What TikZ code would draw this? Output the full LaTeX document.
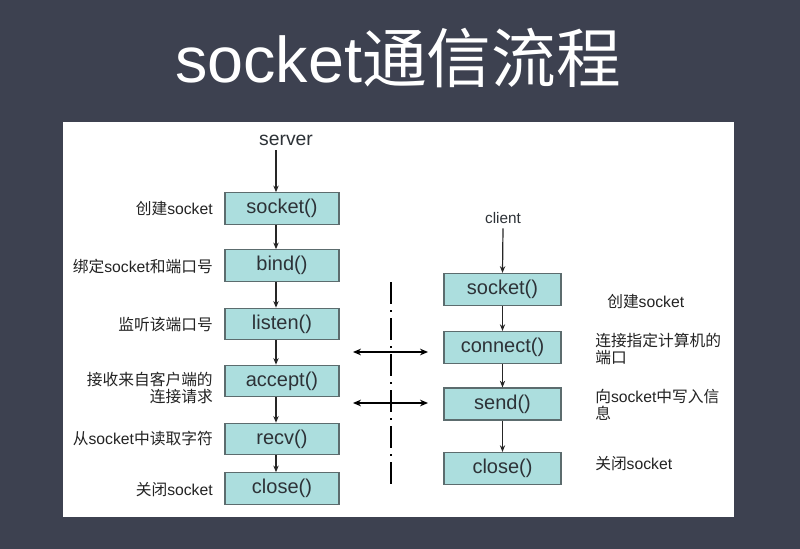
\documentclass[tikz,border=0pt]{standalone}
\usepackage{fontspec}
\setmainfont{Liberation Sans}
\newfontfamily\cjk{Noto Sans CJK SC}
\usetikzlibrary{arrows.meta,positioning}

\definecolor{slate}{RGB}{61,65,80}
\definecolor{boxfill}{RGB}{172,222,222}
\definecolor{boxline}{RGB}{92,108,110}
\definecolor{boxtext}{RGB}{45,50,55}
\definecolor{notetext}{RGB}{35,35,35}

\begin{document}
\begin{tikzpicture}[x=0.75pt,y=0.75pt,yscale=-1,xscale=1,
  callbox/.style={draw=boxline,fill=boxfill,line width=0.9pt,minimum width=85.5pt,minimum height=23.5pt,inner sep=0pt,font=\fontsize{15}{18}\selectfont,text=boxtext},
  clientbox/.style={callbox,minimum width=87.75pt,minimum height=24pt},
  note/.style={font=\fontsize{11.8}{13}\selectfont,text=notetext,inner sep=0pt},
  flow/.style={-{Stealth[length=5pt,width=4pt]},line width=0.9pt,draw=black!85},
  link/.style={{Stealth[length=6pt,width=5pt]}-{Stealth[length=6pt,width=5pt]},line width=1.1pt},
  divider/.style={line width=1.4pt,dash pattern=on 16.5pt off 4.5pt on 1.5pt off 4.5pt}]
\useasboundingbox (0,0) rectangle (800,549);

%Shape: background and sheet
\fill[slate] (0,0) rectangle (800,549);
\fill[white] (63,122) rectangle (734,517);

% Title
\node[text=white,font=\fontsize{48.5}{52}\selectfont] (title) at (398,58) {socket{\cjk 通信流程}};

% Server side
\node[font=\fontsize{14.5}{17}\selectfont,text=boxtext] (server) at (286,140) {server};
\coordinate (sx) at (276,0);
\node[callbox] (ssock) at (282,208.5) {socket()};
\node[callbox] (sbind) at (282,265.5) {bind()};
\node[callbox] (slisten) at (282,324) {listen()};
\node[callbox] (saccept) at (282,381) {accept()};
\node[callbox] (srecv) at (282,439) {recv()};
\node[callbox] (sclose) at (282,488.5) {close()};

\draw[flow] (server.south -| sx) -- (ssock.north -| sx);
\draw[flow] (ssock.south -| sx) -- (sbind.north -| sx);
\draw[flow] (sbind.south -| sx) -- (slisten.north -| sx);
\draw[flow] (slisten.south -| sx) -- (saccept.north -| sx);
\draw[flow] (saccept.south -| sx) -- (srecv.north -| sx);
\draw[flow] (srecv.south -| sx) -- (sclose.north -| sx);

% Text Node
\node[note,anchor=east] (lsock) at (213,209) {{\cjk 创建}socket};
\node[note,anchor=east] (lbind) at (213,266) {{\cjk 绑定}socket{\cjk 和端口号}};
\node[note,anchor=east] (llisten) at (213,325) {\cjk 监听该端口号};
\node[note,anchor=north east,align=right] (laccept) at (213,372) {{\cjk 接收来自客户端的}\\{\cjk 连接请求}};
\node[note,anchor=east] (lrecv) at (213,439) {{\cjk 从}socket{\cjk 中读取字符}};
\node[note,anchor=east] (lclose) at (213,490) {{\cjk 关闭}socket};

% Client side
\node[font=\fontsize{11.5}{14}\selectfont,text=boxtext] (client) at (503,218) {client};
\node[clientbox] (csock) at (502.5,289.5) {socket()};
\node[clientbox] (cconnect) at (502.5,347.5) {connect()};
\node[clientbox] (csend) at (502.5,404) {send()};
\node[clientbox] (cclose) at (502.5,468.5) {close()};

\draw[flow] (client.south) -- (csock.north);
\draw[flow] (csock) -- (cconnect);
\draw[flow] (cconnect) -- (csend);
\draw[flow] (csend) -- (cclose);

% Text Node
\node[note,anchor=west] (rsock) at (607,302) {{\cjk 创建}socket};
\node[note,anchor=north west,align=left] (rconnect) at (595,333) {{\cjk 连接指定计算机的}\\{\cjk 端口}};
\node[note,anchor=north west,align=left] (rsend) at (595,389) {{\cjk 向}socket{\cjk 中写入信}\\{\cjk 息}};
\node[note,anchor=west] (rclose) at (595,464) {{\cjk 关闭}socket};

% Divider and exchanges
\coordinate (dtop) at (391,282);
\coordinate (dbot) at (391,486);
\draw[divider] (dtop) -- (dbot);
\coordinate (ca1) at (353,352);
\coordinate (ca2) at (428,352);
\coordinate (sd1) at (353,403);
\coordinate (sd2) at (428,403);
\draw[link] (ca1) -- (ca2);
\draw[link] (sd1) -- (sd2);
\end{tikzpicture}
\end{document}
